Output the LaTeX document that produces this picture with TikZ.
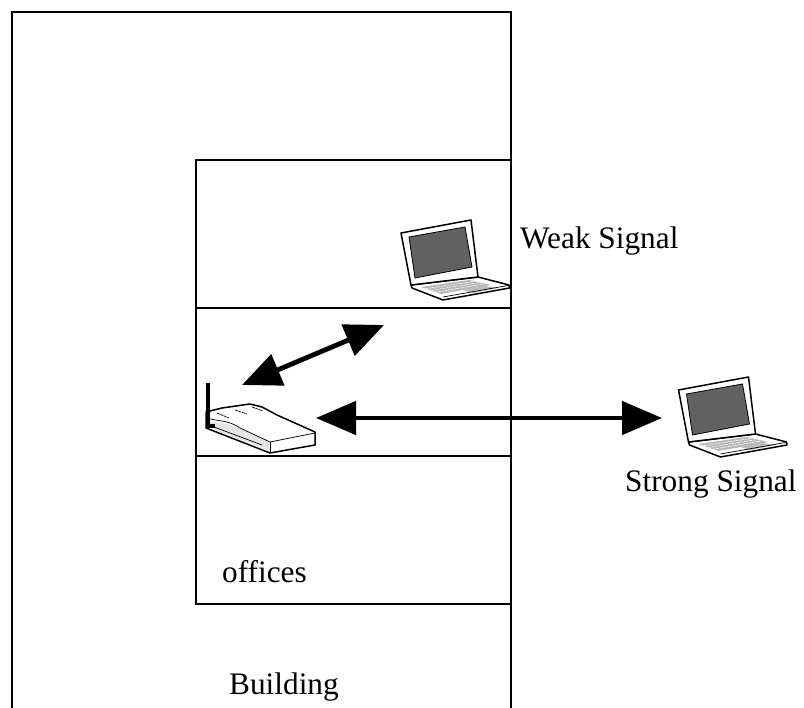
\documentclass[tikz,border=0pt]{standalone}
\usepackage{fontspec}
\setmainfont{Liberation Serif}
\usetikzlibrary{arrows.meta}
\definecolor{screenG}{gray}{0.38}
\definecolor{keyG}{gray}{0.72}
\definecolor{shadeG}{gray}{0.9}
\tikzset{
  wall/.style={draw=black,line width=2.8pt},
  lbl/.style={font=\fontsize{31.3}{34}\selectfont,inner sep=0pt,text=black},
  sig/.style={black,line width=4.8pt,{Triangle[length=40pt,width=33pt]}-{Triangle[length=40pt,width=33pt]}},
  sigsmall/.style={black,line width=4.8pt,{Triangle[length=39pt,width=33pt]}-{Triangle[length=39pt,width=33pt]}},
  outl/.style={draw=black,line width=1.5pt,line join=round},
  thin/.style={draw=black,line width=0.7pt},
  pics/laptop/.style={code={
    % base
    \path[outl,fill=white] (10,65) -- (77,57) -- (108,65) -- (108.5,68) -- (42,80) -- (11,68) -- cycle;
    \path[fill=keyG] (20,67) -- (68,60) -- (90,65) -- (40,74) -- cycle;
    \foreach \i in {1,2,3}{\draw[white,line width=0.6pt,dash pattern=on 2pt off 1pt] (20+\i*5,67+\i*1.7) -- (68+\i*5,60+\i*1.3);}
    \path[fill=shadeG!60!gray] (62,70) -- (84,66) -- (97,68) -- (72,73) -- cycle;
    \draw[thin] (42,77) -- (107,65.5);
    % lid
    \path[outl,fill=white] (0,13) -- (70,0) -- (77,57) -- (10,65) -- cycle;
    \path[draw=black,line width=0.8pt,fill=screenG] (8,17) -- (64,7) -- (71,47) -- (14,58) -- cycle;
  }},
}
\begin{document}
\begin{tikzpicture}[x=1pt,y=-1pt]
\useasboundingbox (0,0) rectangle (804,708);
\fill[white] (0,0) rectangle (804,708);
% building
\draw[wall] (12,708) -- (12,12) -- (511,12) -- (511,708);
% offices
\draw[wall] (196,160) rectangle (511,604);
\draw[wall] (196,308) -- (511,308);
\draw[wall] (196,456) -- (511,456);
% laptops
\pic at (401,220) {laptop};
\pic at (678.5,377) {laptop};
% router
\path[outl,fill=white] (206,412) -- (222,408) -- (250,404) -- (262,407) -- (277,415) -- (315,432) -- (315,445) -- (270,453) -- (206,428) -- cycle;
\path[fill=shadeG] (207,421) -- (228,424) -- (268,440) -- (270,451) -- (207,427) -- cycle;
\draw[thin] (206,418) .. controls (222,422) and (228,420) .. (240,428) -- (270,442) -- (315,433);
\draw[thin] (270,442) -- (270,453);
\draw[thin] (206,424) -- (262,445);
\draw[black,line width=0.7pt,dash pattern=on 3pt off 0.7pt] (217,413) -- (229,418);
\draw[black,line width=0.7pt,dash pattern=on 3pt off 0.7pt] (235,410) -- (247,414);
\draw[black,line width=0.7pt,dash pattern=on 3pt off 0.7pt] (252,407) -- (263,411);
\draw[black,line width=3.4pt] (208,383) -- (208,426) -- (215,426);
% arrow ends
\coordinate (diagA) at (242,385);
\coordinate (diagB) at (384,325);
\coordinate (horA) at (316,418);
\coordinate (horB) at (662,418);
\draw[sigsmall] (diagA) -- (diagB);
\draw[sig] (horA) -- (horB);
% labels
\node[lbl,anchor=base west] (weak) at (520,249) {Weak Signal};
\node[lbl,anchor=base west] (strong) at (625,492) {Strong Signal};
\node[lbl,anchor=base west] (off) at (222,583) {offices};
\node[lbl,anchor=base west] (bld) at (229,694) {Building};
\end{tikzpicture}
\end{document}
